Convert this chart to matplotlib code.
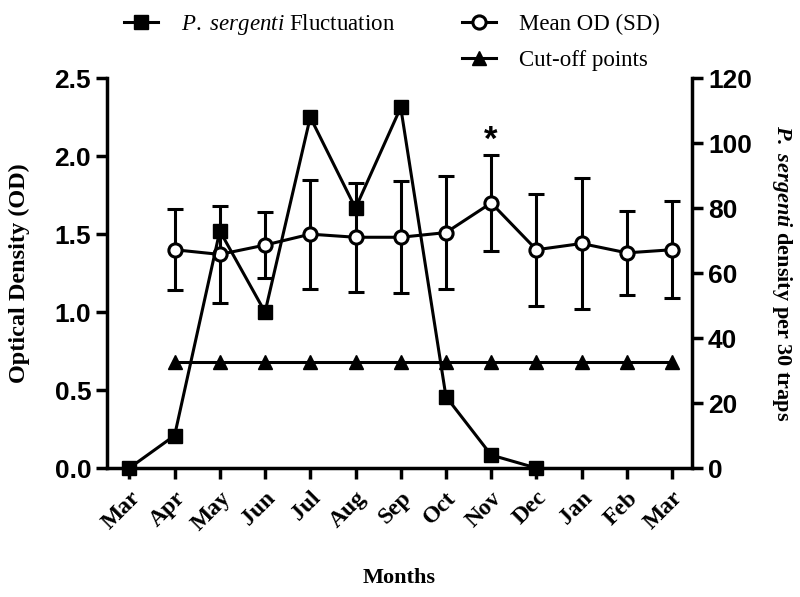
import numpy as np
import matplotlib.pyplot as plt
from matplotlib.lines import Line2D

plt.rcParams['mathtext.fontset'] = 'custom'
plt.rcParams['mathtext.it'] = 'Liberation Serif:italic'
plt.rcParams['mathtext.bfit'] = 'Liberation Serif:italic:bold'
plt.rcParams['mathtext.rm'] = 'Liberation Serif'

months = ['Mar', 'Apr', 'May', 'Jun', 'Jul', 'Aug', 'Sep', 'Oct', 'Nov', 'Dec', 'Jan', 'Feb', 'Mar']

# mean OD and SD, Apr .. Mar
od_mean = [1.40, 1.37, 1.43, 1.50, 1.48, 1.48, 1.51, 1.70, 1.40, 1.44, 1.38, 1.40]
od_sd = [0.26, 0.31, 0.21, 0.35, 0.35, 0.36, 0.36, 0.31, 0.36, 0.42, 0.27, 0.31]
cutoff = [0.68] * 12

# sand fly counts, Mar .. Dec
sergenti = [0, 10, 73, 48, 108, 80, 111, 22, 4, 0]

lw = 2.2
fig = plt.figure(figsize=(8, 5.97), dpi=100)
ax = fig.add_axes([0.134, 0.216, 0.731, 0.653])
ax2 = ax.twinx()

xs = np.arange(len(months))
ax.errorbar(xs[1:], od_mean, yerr=od_sd, color='black', lw=lw, marker='o', ms=9.5,
            mfc='white', mec='black', mew=2.2, capsize=5.5, capthick=lw, elinewidth=lw, zorder=3)
ax.plot(xs[1:], cutoff, color='black', lw=lw, marker='^', ms=10, zorder=3)
ax2.plot(xs[:len(sergenti)], sergenti, color='black', lw=lw, marker='s', ms=10.5, clip_on=False, zorder=4)

# significance mark over Nov
ax.text(8, 2.10, '*', ha='center', va='center', fontsize=25, fontweight='bold', family='Liberation Sans')

ax.set_xlim(-0.49, 12.44)
ax.set_ylim(0, 2.5)
ax2.set_ylim(0, 120)
ax.set_yticks(np.arange(0, 2.51, 0.5))
ax.set_yticklabels(['%.1f' % v for v in np.arange(0, 2.51, 0.5)])
ax2.set_yticks(range(0, 121, 20))
ax.set_xticks(xs)
ax.set_xticklabels(months, rotation=45, ha='right', rotation_mode='anchor',
                   family='Liberation Serif', fontweight='bold', fontsize=17)

for a in (ax, ax2):
    a.spines['top'].set_visible(False)
    for s in a.spines.values():
        s.set_linewidth(2.5)
    a.tick_params(width=2.5, length=8, direction='out')
ax.tick_params(axis='x', pad=6)
ax.spines['right'].set_visible(False)
ax2.spines['left'].set_visible(False)
ax2.spines['bottom'].set_visible(False)

for lab in ax.get_yticklabels() + ax2.get_yticklabels():
    lab.set_family('Liberation Sans')
    lab.set_fontweight('bold')
    lab.set_fontsize(19)

ax.set_xlabel('Months', family='Liberation Serif', fontweight='bold', fontsize=16, labelpad=24)
ax.set_ylabel('Optical Density (OD)', family='Liberation Serif', fontweight='bold', fontsize=17.5, labelpad=18)
ax2.set_ylabel(r'$\mathbfit{P.}$ $\mathbfit{sergenti}$ density per 30 traps', family='Liberation Serif',
               fontweight='bold', fontsize=16, rotation=270, labelpad=30)

h_s = Line2D([], [], color='black', lw=lw, marker='s', ms=10.5)
h_m = Line2D([], [], color='black', lw=lw, marker='o', ms=9.5, mfc='white', mew=2.2)
h_c = Line2D([], [], color='black', lw=lw, marker='^', ms=10)
h_blank = Line2D([], [], color='none')
leg = fig.legend([h_s, h_blank, h_m, h_c],
                 [r'$P.$ $sergenti$ Fluctuation', '', 'Mean OD (SD)', 'Cut-off points'],
                 ncol=2, loc='upper center', bbox_to_anchor=(0.49, 1.015), frameon=False,
                 prop={'family': 'Liberation Serif', 'size': 16.5}, handlelength=1.5,
                 handletextpad=1.0, columnspacing=2.9, labelspacing=0.65)

fig.savefig('out.png', dpi=100)
